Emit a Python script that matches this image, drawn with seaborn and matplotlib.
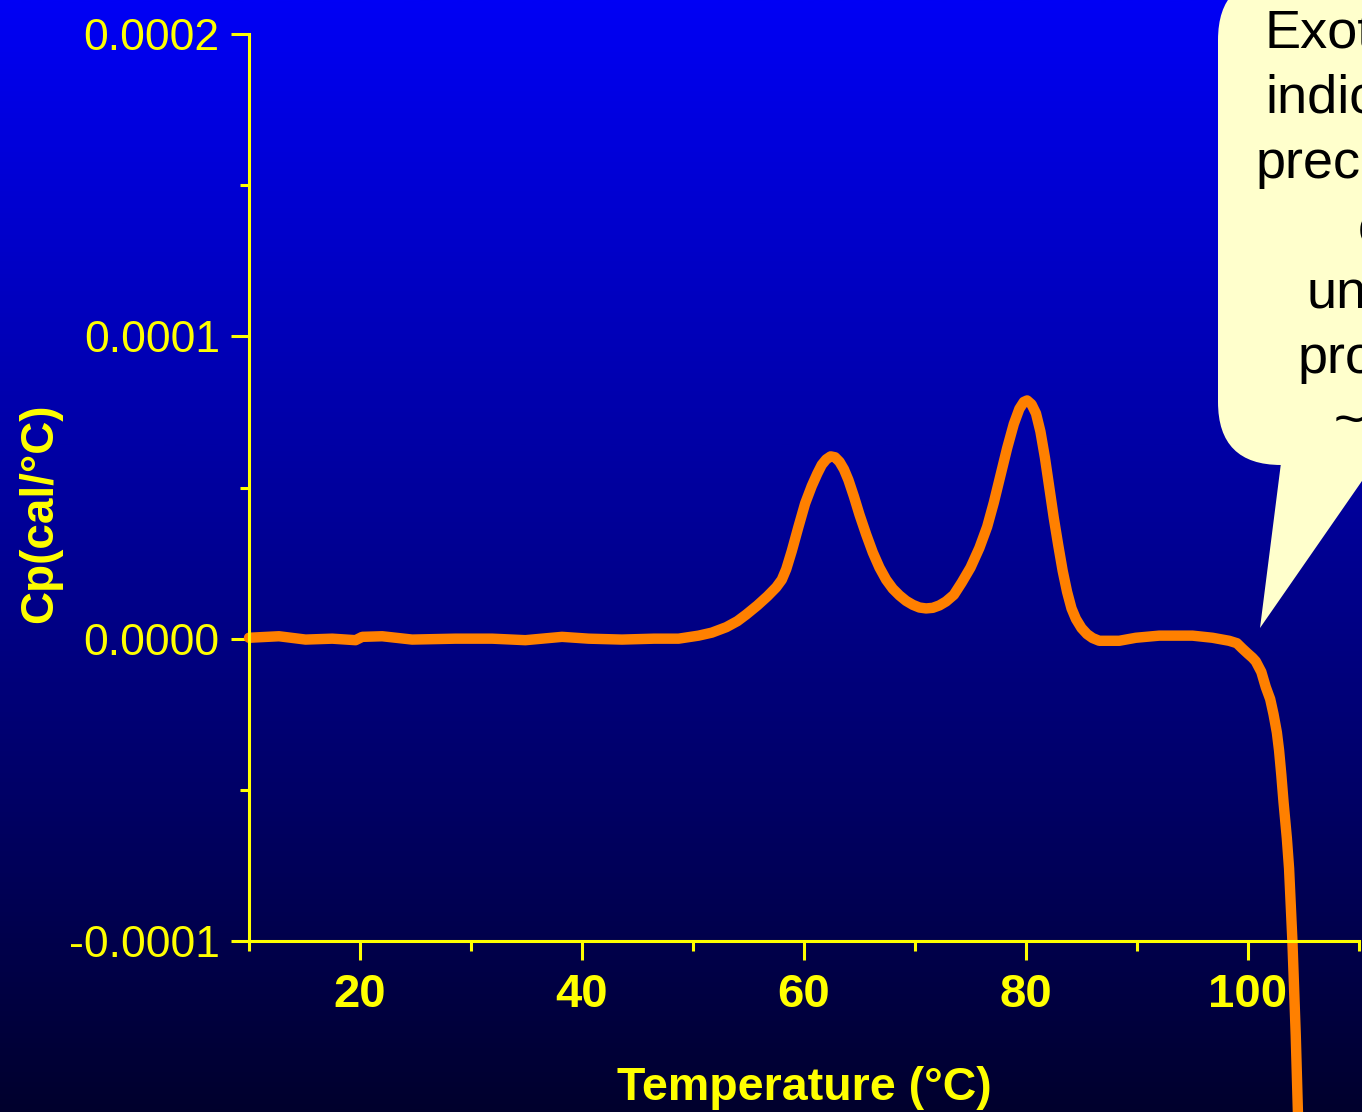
import numpy as np
import pandas as pd
import matplotlib
matplotlib.use("Agg")
import matplotlib.pyplot as plt
from matplotlib.colors import LinearSegmentedColormap
from matplotlib.patches import FancyBboxPatch, Polygon
from matplotlib.ticker import FixedLocator, FuncFormatter
import seaborn as sns

# DSC thermogram: excess heat capacity vs temperature
temperature = [10.0, 12.7, 15.1, 17.5, 19.6, 20.2, 22.0, 24.7, 28.6, 31.9, 34.9,
               38.2, 40.6, 43.6, 46.5, 48.7, 50.5, 51.7, 53.0, 54.0, 54.8, 55.8,
               56.7, 57.5, 58.0, 58.4, 58.9, 59.5, 60.1, 60.7, 61.2, 61.6, 62.0,
               62.4, 62.8, 63.2, 63.6, 64.0, 64.5, 65.0, 65.6, 66.2, 66.8, 67.4,
               68.0, 68.6, 69.2, 69.8, 70.4, 71.0, 71.6, 72.2, 72.8, 73.5, 74.2,
               75.0, 75.8, 76.5, 77.1, 77.7, 78.3, 78.9, 79.4, 79.8, 80.1, 80.5,
               80.9, 81.3, 81.7, 82.1, 82.5, 82.9, 83.3, 83.7, 84.1, 84.5, 85.0,
               85.5, 86.0, 86.6, 88.4, 89.9, 92.0, 95.0, 96.8, 98.3, 99.0, 99.5,
               100.0, 100.4, 100.7, 101.2, 101.6, 102.0, 102.3, 102.6, 102.8,
               103.0, 103.2, 103.5, 103.7, 104.0, 104.3, 104.5, 104.6]
# Cp in units of 1e-6 cal/°C
cp_micro = [0.3, 0.8, -0.3, 0.0, -0.5, 0.6, 0.8, -0.3, 0.0, 0.0, -0.5,
            0.6, 0.0, -0.3, 0.0, 0.0, 1.0, 2.0, 3.8, 5.8, 8.0, 11.0,
            14.0, 17.0, 19.5, 23.0, 29.0, 37.0, 44.7, 50.5, 54.6, 57.5, 59.3,
            60.3, 60.0, 58.5, 56.0, 52.5, 47.0, 41.0, 34.5, 28.5, 23.5, 19.5,
            16.5, 14.3, 12.5, 11.2, 10.3, 10.0, 10.2, 11.0, 12.3, 14.5, 18.5,
            23.5, 30.0, 37.0, 45.0, 54.0, 63.0, 71.0, 76.0, 78.3, 78.8, 77.5,
            74.5, 68.5, 60.0, 50.0, 40.0, 31.0, 22.5, 15.5, 10.0, 6.5, 3.5,
            1.5, 0.2, -0.7, -0.7, 0.3, 1.0, 1.0, 0.3, -0.7, -1.5, -3.3,
            -5.0, -6.3, -7.5, -11.0, -16.0, -20.0, -25.0, -31.0, -37.0,
            -45.0, -54.0, -66.0, -76.0, -100.0, -131.0, -157.0, -175.0]

x_major = [20, 40, 60, 80, 100]
x_minor = [10, 30, 50, 70, 90, 110]
y_major = [-0.0001, 0.0, 0.0001, 0.0002]
y_minor = [-0.00005, 0.00005, 0.00015]
x_label = "Temperature (°C)"
y_label = "Cp(cal/°C)"
note_lines = ["Exotherm", "indicating", "precipitate", "of", "unfold", "protein", "~95"]

df = pd.DataFrame({"Temperature": temperature,
                   "Cp": np.array(cp_micro) * 1e-6})

sns.set_style("ticks")
plt.rcParams["font.family"] = ["Liberation Sans", "DejaVu Sans"]

W, H = 1362, 1112
fig = plt.figure(figsize=(W / 100, H / 100), dpi=100)

# slide-style vertical gradient behind everything
bg = fig.add_axes([0, 0, 1, 1])
grad = LinearSegmentedColormap.from_list("slide", ["#0000F5", "#00002D"])
bg.imshow(np.linspace(0, 1, 512).reshape(-1, 1), cmap=grad, aspect="auto",
          extent=[0, 1, 0, 1], origin="upper")
bg.set_axis_off()

yellow = "#FFFF00"
ax = fig.add_axes([249 / W, (H - 941) / H, 1110 / W, 907 / H])
ax.patch.set_alpha(0)

sns.lineplot(data=df, x="Temperature", y="Cp", ax=ax, color="#FF8000",
             linewidth=7.5, sort=False, estimator=None)
for ln in ax.lines:
    ln.set_clip_on(False)
    ln.set_solid_joinstyle("round")
    ln.set_solid_capstyle("round")

ax.set_xlim(10, 110)
ax.set_ylim(-0.0001, 0.0002)

for side in ["top", "right"]:
    ax.spines[side].set_visible(False)
for side in ["left", "bottom"]:
    ax.spines[side].set_color(yellow)
    ax.spines[side].set_linewidth(2.2)

ax.xaxis.set_major_locator(FixedLocator(x_major))
ax.xaxis.set_minor_locator(FixedLocator(x_minor))
ax.yaxis.set_major_locator(FixedLocator(y_major))
ax.yaxis.set_minor_locator(FixedLocator(y_minor))
ax.yaxis.set_major_formatter(FuncFormatter(lambda v, p: f"{v:.4f}"))
ax.xaxis.set_major_formatter(FuncFormatter(lambda v, p: f"{v:.0f}"))

ax.tick_params(axis="x", which="major", direction="out", length=13.7, width=2.2,
               color=yellow, labelcolor=yellow, labelsize=34, pad=9)
ax.tick_params(axis="x", which="minor", direction="out", length=7.5, width=2.2,
               color=yellow)
ax.tick_params(axis="y", which="major", direction="out", length=13, width=2.2,
               color=yellow, labelcolor=yellow, labelsize=32, pad=8)
ax.tick_params(axis="y", which="minor", direction="out", length=6.5, width=2.2,
               color=yellow)
for lbl in ax.get_xticklabels():
    lbl.set_fontweight("bold")

ax.set_xlabel(x_label, color=yellow, fontsize=33.5, fontweight="bold")
ax.set_ylabel(y_label, color=yellow, fontsize=33, fontweight="bold")
ax.xaxis.set_label_coords(0.5, -0.138)
ax.yaxis.set_label_coords(-0.168, 0.472)

# speech-bubble note in pixel coordinates
ov = fig.add_axes([0, 0, 1, 1])
ov.set_xlim(0, W)
ov.set_ylim(H, 0)
ov.set_axis_off()
ov.patch.set_alpha(0)
bubble = "#FFFFCC"
ov.add_patch(FancyBboxPatch((1218, -23), 330, 488,
                            boxstyle="round,pad=0,rounding_size=63",
                            facecolor=bubble, edgecolor="none"))
ov.add_patch(Polygon([(1282, 455), (1260, 628), (1380, 455)], closed=True,
                     facecolor=bubble, edgecolor="none"))
for i, line in enumerate(note_lines):
    ov.text(1380, 48 + 65 * i, line, ha="center", va="baseline",
            fontsize=39, color="black")

fig.savefig("out.png", dpi=100)
